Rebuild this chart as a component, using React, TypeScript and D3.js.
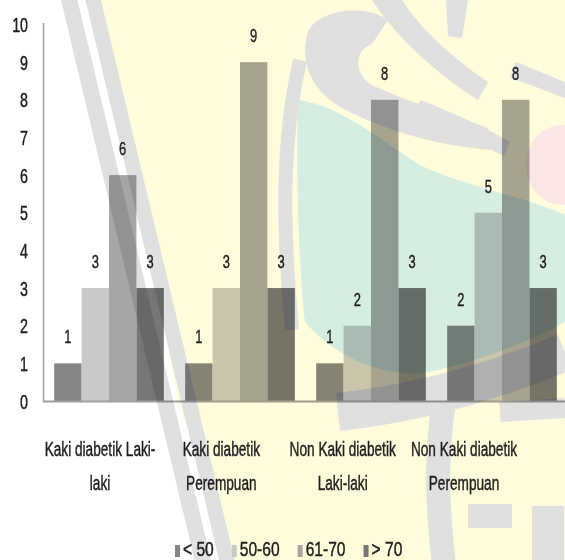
import { useEffect, useRef } from "react";
import * as d3 from "d3";

const categories = [
  "Kaki diabetik Laki-laki",
  "Kaki diabetik Perempuan",
  "Non Kaki diabetik Laki-laki",
  "Non Kaki diabetik Perempuan",
];
const categoryLines = [
  ["Kaki diabetik Laki-", "laki"],
  ["Kaki diabetik", "Perempuan"],
  ["Non Kaki diabetik", "Laki-laki"],
  ["Non Kaki diabetik", "Perempuan"],
];
const seriesNames = ["< 50", "50-60", "61-70", "> 70"];
const under50 = [1, 1, 1, 2];
const from50to60 = [3, 3, 2, 5];
const from61to70 = [6, 9, 8, 8];
const over70 = [3, 3, 3, 3];
const yTicks = [0, 1, 2, 3, 4, 5, 6, 7, 8, 9, 10];

const COLORS = ["#858585", "#c9c9c9", "#a6a6a6", "#767676"];
const W = 565;
const H = 560;
const FONT = "'Liberation Sans', Arial, sans-serif";
const INK = "#1e1e1e";
const MARK = "#e0e0e0";

export default function App() {
  const svgRef = useRef<SVGSVGElement>(null);

  useEffect(() => {
    if (!svgRef.current) return;
    const svg = d3.select(svgRef.current);
    svg.selectAll("*").remove();

    const values = [under50, from50to60, from61to70, over70];

    const x0 = d3
      .scaleBand<string>()
      .domain(categories)
      .range([43.5, 567.5])
      .paddingInner(0.163)
      .paddingOuter(0.0815);
    const x1 = d3
      .scaleBand<string>()
      .domain(seriesNames)
      .range([0, x0.bandwidth()]);
    const y = d3.scaleLinear().domain([0, 10]).range([401, 24.5]);
    const xLabel = d3.scalePoint<string>().domain(categories).range([100, 464]);

    const addText = (
      parent: d3.Selection<any, any, any, any>,
      x: number,
      yy: number,
      txt: string,
      size: number,
      sx: number,
      anchor: string
    ) =>
      parent
        .append("text")
        .attr("transform", `translate(${x},${yy}) scale(${sx},1)`)
        .attr("text-anchor", anchor)
        .attr("font-family", FONT)
        .attr("font-size", size)
        .attr("fill", INK)
        .attr("stroke", INK)
        .attr("stroke-width", 0.45)
        .text(txt);

    svg.append("rect").attr("width", W).attr("height", H).attr("fill", "#ffffff");

    // bars
    const bars = svg.append("g");
    categories.forEach((c, ci) => {
      seriesNames.forEach((s, si) => {
        const v = values[si][ci];
        bars
          .append("rect")
          .attr("x", (x0(c) ?? 0) + (x1(s) ?? 0))
          .attr("y", y(v))
          .attr("width", x1.bandwidth())
          .attr("height", y(0) - y(v))
          .attr("fill", COLORS[si]);
      });
    });

    // axes
    svg
      .append("line")
      .attr("x1", 43.5)
      .attr("x2", 43.5)
      .attr("y1", 23)
      .attr("y2", 402)
      .attr("stroke", "#a0a0a0")
      .attr("stroke-width", 1.5);
    svg
      .append("line")
      .attr("x1", 43)
      .attr("x2", W)
      .attr("y1", 401.5)
      .attr("y2", 401.5)
      .attr("stroke", "#a0a0a0")
      .attr("stroke-width", 1.8);

    // faint watermark, multiplied over everything below it
    const wm = svg.append("g").style("mix-blend-mode", "multiply");
    wm.append("path")
      .attr("d", "M100 0 L565 0 L565 560 L232 560 L178 400 L140 200 Z")
      .attr("fill", "#fffcdb");
    wm.append("path")
      .attr(
        "d",
        "M298 100 C340 105 380 140 420 165 C460 185 520 195 565 215 L565 322 C530 342 480 360 430 372 C380 380 330 352 305 322 C298 260 296 160 298 100 Z"
      )
      .attr("fill", "#d6ede2");
    wm.append("ellipse")
      .attr("cx", 562)
      .attr("cy", 165)
      .attr("rx", 36)
      .attr("ry", 40)
      .attr("fill", "#fbe6e6");

    const grayFills = [
      // swirl with tail
      "M308 32 C318 8 368 4 388 20 L372 44 C356 50 352 70 370 84 C402 100 444 112 488 128 L492 150 C440 146 390 132 350 112 C314 96 298 64 308 32 Z",
      // diagonal band above the swirl
      "M372 0 L402 0 C420 28 450 56 488 82 L478 100 C440 76 398 40 372 0 Z",
      "M446 0 L468 0 L462 38 L448 36 Z",
      // right-hand rays
      "M420 100 C452 112 482 126 510 142 L504 156 C476 142 446 128 416 114 Z",
      "M515 62 C532 68 550 76 565 82 L565 98 C548 92 530 84 510 78 Z",
    ];
    grayFills.forEach((d) => wm.append("path").attr("d", d).attr("fill", MARK));

    const grayStrokes: [string, number][] = [
      ["M68 -5 L204 565", 16],
      ["M92 -5 L228 565", 15],
      ["M292 330 C282 220 282 140 300 60", 14],
      ["M338 412 Q450 400 565 352", 38],
      ["M444 402 C436 450 436 500 444 565", 24],
      ["M500 412 L565 408", 20],
      ["M468 516 L512 516", 24],
      ["M548 506 L548 565", 32],
    ];
    grayStrokes.forEach(([d, w]) =>
      wm
        .append("path")
        .attr("d", d)
        .attr("fill", "none")
        .attr("stroke", MARK)
        .attr("stroke-width", w)
    );

    // y tick labels
    const ticks = svg.append("g");
    yTicks.forEach((t) => addText(ticks, 28, y(t) + 7.5, String(t), 21, 0.68, "end"));

    // data labels
    const labels = svg.append("g");
    categories.forEach((c, ci) => {
      seriesNames.forEach((s, si) => {
        const v = values[si][ci];
        const cx = (x0(c) ?? 0) + (x1(s) ?? 0) + x1.bandwidth() / 2;
        addText(labels, cx, y(v) - 20, String(v), 19, 0.68, "middle");
      });
    });

    // category labels
    const cats = svg.append("g");
    categories.forEach((c, ci) => {
      categoryLines[ci].forEach((ln, li) =>
        addText(cats, xLabel(c) ?? 0, 456 + li * 34, ln, 21, 0.65, "middle")
      );
    });

    // legend
    const legend = svg.append("g");
    let lx = 175;
    seriesNames.forEach((s, si) => {
      legend
        .append("rect")
        .attr("x", lx)
        .attr("y", 545)
        .attr("width", 5)
        .attr("height", 12)
        .attr("fill", COLORS[si]);
      const t = addText(legend, lx + 8, 556, s, 20, 0.78, "start");
      const len = (t.node()?.getComputedTextLength() ?? 30) * 0.78;
      lx += 8 + len + 18;
    });
  }, []);

  return (
    <svg
      ref={svgRef}
      width={W}
      height={H}
      style={{ position: "absolute", left: 0, top: 0 }}
      role="img"
      aria-label="Grouped bar chart by age group"
    />
  );
}
